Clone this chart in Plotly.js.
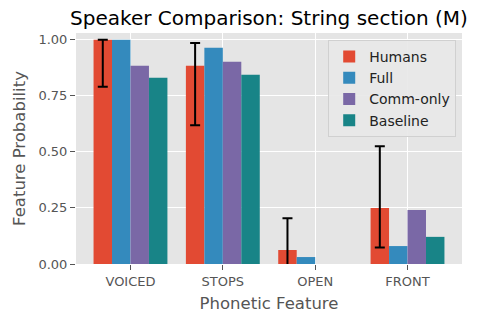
<!DOCTYPE html>
<html>
<head>
<meta charset="utf-8">
<script src="https://cdn.plot.ly/plotly-3.0.1.min.js"></script>
<style>
  html, body { margin: 0; padding: 0; background: #fff; }
  #plot { width: 477px; height: 321px; }
</style>
</head>
<body>
<div id="plot"></div>
<script>
// grouped bars, ggplot-ish look
var features = ['VOICED', 'STOPS', 'OPEN', 'FRONT'];

var humans   = [1.00, 0.884, 0.0625, 0.25];
var full     = [1.00, 0.964, 0.031, 0.080];
var commOnly = [0.884, 0.902, 0.0, 0.241];
var baseline = [0.830, 0.844, 0.0, 0.121];

// human error bar ends (upper / lower limits)
var humansHigh = [1.00, 0.985, 0.204, 0.525];
var humansLow  = [0.79, 0.619, -0.08, 0.074];

var errPlus = humans.map(function (v, i) { return humansHigh[i] - v; });
var errMinus = humans.map(function (v, i) { return v - humansLow[i]; });

function series(name, vals, color) {
  return { x: features, y: vals, name: name, type: 'bar',
           marker: { color: color }, hoverinfo: 'skip' };
}

var tr1 = series('Humans', humans, '#E24A33');
tr1.error_y = { type: 'data', symmetric: false, array: errPlus, arrayminus: errMinus,
                color: '#000000', thickness: 2, width: 5 };

var data = [
  tr1,
  series('Full', full, '#348ABD'),
  series('Comm-only', commOnly, '#7A68A6'),
  series('Baseline', baseline, '#188487')
];

var tickFont = { family: 'DejaVu Sans', size: 13, color: '#555555' };

var layout = {
  width: 477,
  height: 321,
  margin: { l: 76, r: 15, t: 33, b: 57 },
  paper_bgcolor: '#ffffff',
  plot_bgcolor: '#E5E5E5',
  font: { family: 'DejaVu Sans', color: '#000000' },
  title: { text: 'Speaker Comparison: String section (M)',
           font: { family: 'DejaVu Sans', size: 20, color: '#000000' },
           x: 0.5, xref: 'paper', y: 1 - 18 / 321, yanchor: 'middle' },
  barmode: 'group',
  bargap: 0.2,
  bargroupgap: 0,
  showlegend: true,
  legend: { x: 0.985, y: 0.97, xanchor: 'right', yanchor: 'top',
            bgcolor: 'rgba(232,232,232,0.9)', bordercolor: '#D0D0D0', borderwidth: 1,
            font: { family: 'DejaVu Sans', size: 14, color: '#222222' },
            tracegroupgap: 1, itemwidth: 30 },
  xaxis: {
    range: [-0.59, 3.59],
    showgrid: true, gridcolor: '#ffffff', gridwidth: 1,
    zeroline: false, showline: false,
    ticks: 'outside', ticklen: 5, tickcolor: '#555555',
    tickfont: tickFont,
    title: { text: 'Phonetic Feature', font: { family: 'DejaVu Sans', size: 16.5, color: '#555555' }, standoff: 9 }
  },
  yaxis: {
    range: [0, 1.03],
    tickvals: [0, 0.25, 0.5, 0.75, 1.0],
    tickformat: '.2f',
    showgrid: true, gridcolor: '#ffffff', gridwidth: 1,
    zeroline: false, showline: false,
    ticks: 'outside', ticklen: 5, tickcolor: '#555555',
    tickfont: tickFont,
    title: { text: 'Feature Probability', font: { family: 'DejaVu Sans', size: 16.5, color: '#555555' }, standoff: 8 }
  }
};

Plotly.newPlot('plot', data, layout, { displayModeBar: false, staticPlot: true });
</script>
</body>
</html>
